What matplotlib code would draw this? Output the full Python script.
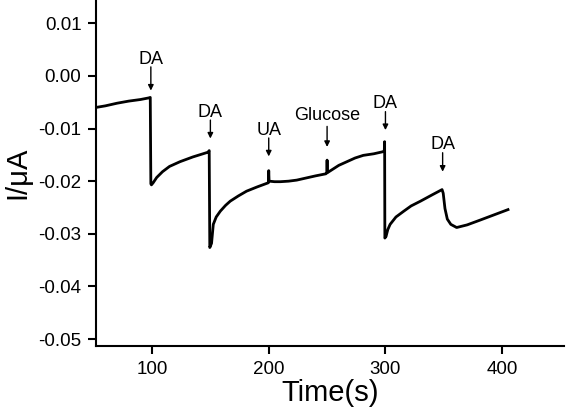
import matplotlib
matplotlib.use('Agg')
import matplotlib.pyplot as plt

plt.rcParams['font.family'] = ['Liberation Sans', 'DejaVu Sans']

# amperometric trace
t = [52, 60, 70, 80, 90, 97, 98.5,
     99, 99.5, 101, 104, 109, 115, 124, 135, 148, 149,
     149.5, 151, 152.5, 155, 158.5, 163, 167, 174, 181, 190, 198.5, 199.7,
     200, 200.3, 205, 210, 217, 224, 232, 240, 249, 249.8,
     250, 250.2, 253, 260, 267, 274, 281, 290, 298, 299,
     299.3, 299.5, 300.5, 302, 304, 309, 315.7, 322, 330, 340, 348.5,
     349.5, 351, 353, 356, 361, 370, 381, 393, 405]
cur = [-0.0060, -0.0057, -0.0052, -0.0048, -0.0045, -0.0042, -0.0041,
       -0.0205, -0.0207, -0.0203, -0.0193, -0.0182, -0.0172, -0.0163, -0.0154, -0.0145, -0.0142,
       -0.0326, -0.0318, -0.0282, -0.0268, -0.0257, -0.0246, -0.0238, -0.0228, -0.0219, -0.0211, -0.0204, -0.0203,
       -0.0180, -0.0200, -0.0201, -0.0201, -0.0200, -0.0198, -0.0194, -0.0190, -0.0186, -0.0184,
       -0.0160, -0.0184, -0.0180, -0.0170, -0.0163, -0.0156, -0.0151, -0.0148, -0.0144, -0.0142,
       -0.0125, -0.0308, -0.0305, -0.0292, -0.0282, -0.0268, -0.0257, -0.0247, -0.0238, -0.0226, -0.0216,
       -0.0223, -0.0252, -0.0272, -0.0282, -0.0288, -0.0283, -0.0274, -0.0264, -0.0254]

# injections: label, time, text y, arrow top, arrow tip
labels = ['DA', 'DA', 'UA', 'Glucose', 'DA', 'DA']
inj_t = [99, 150, 200, 250, 300, 349]
text_y = [0.0031, -0.0070, -0.0103, -0.0076, -0.0053, -0.0131]
arr_top = [0.0017, -0.0084, -0.0118, -0.0096, -0.0068, -0.0146]
arr_tip = [-0.0028, -0.0119, -0.0153, -0.0135, -0.0103, -0.0182]

fig = plt.figure(figsize=(5.66, 4.13), dpi=100)
ax = fig.add_axes([0.1696, 0.1622, 0.8269, 0.8378])

ax.plot(t, cur, color='black', lw=2.0)

for lab, x, ty, a0, a1 in zip(labels, inj_t, text_y, arr_top, arr_tip):
    ax.text(x, ty, lab, ha='center', va='center', fontsize=13)
    ax.annotate('', xy=(x, a1), xytext=(x, a0),
                arrowprops=dict(arrowstyle='-|>', color='black', lw=1,
                                mutation_scale=8, shrinkA=0, shrinkB=0))

ax.set_xlim(52, 453)
ax.set_ylim(-0.0513, 0.0144)
ax.set_xticks([100, 200, 300, 400])
ax.set_yticks([0.01, 0.00, -0.01, -0.02, -0.03, -0.04, -0.05])
ax.set_yticklabels(['0.01', '0.00', '-0.01', '-0.02', '-0.03', '-0.04', '-0.05'])
ax.tick_params(direction='out', length=5.5, width=1.5, labelsize=13.5, pad=5)

for s in ['top', 'right']:
    ax.spines[s].set_visible(False)
for s in ['left', 'bottom']:
    ax.spines[s].set_linewidth(1.5)

ax.set_xlabel('Time(s)', fontsize=21, labelpad=1)
ax.set_ylabel('I/μA', fontsize=21, labelpad=5)

fig.savefig('out.png', dpi=100)
